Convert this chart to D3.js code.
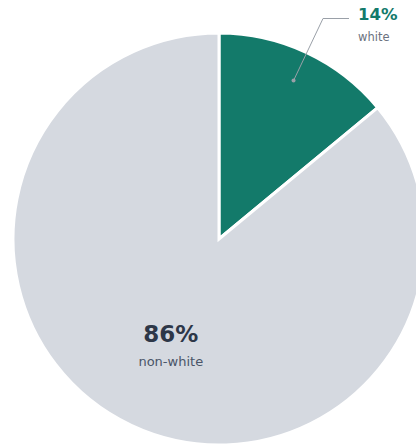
<!DOCTYPE html>
<html><head><meta charset="utf-8">
<script src="https://cdn.jsdelivr.net/npm/d3@7"></script>
<style>html,body{margin:0;padding:0;background:#fff;}svg{display:block;}</style>
</head><body>
<svg id="c" width="416" height="445"></svg>
<script>
const categories = ["white", "non-white"];
const values = [14, 86];
const labels = ["14%", "86%"];

const W = 416, H = 445;
const cx = 219, cy = 239, R = 206;
const colors = d3.scaleOrdinal().domain(categories).range(["#137a6a", "#d5d9e0"]);
const svg = d3.select("#c");
const g = svg.append("g").attr("transform", `translate(${cx},${cy})`);

const pie = d3.pie().sort(null).value(d => d.v);
const data = pie(categories.map((c, i) => ({c, v: values[i], l: labels[i]})));
const arc = d3.arc().innerRadius(0).outerRadius(R);

g.selectAll("path").data(data).join("path")
  .attr("d", arc)
  .attr("fill", d => colors(d.data.c))
  .attr("stroke", "#fff").attr("stroke-width", 3).attr("stroke-linejoin", "miter");

const font = "'DejaVu Sans', sans-serif";
// small slice: leader line label
const s = data[0];
const dotArc = d3.arc().innerRadius(R * 0.85).outerRadius(R * 0.85);
const [dx, dy] = dotArc.centroid(s);
const kx = 104, ky = -220.5, ex = 130;
g.append("polyline")
  .attr("points", [[dx, dy], [kx, ky], [ex, ky]].map(p => p.join(",")).join(" "))
  .attr("fill", "none").attr("stroke", "#9aa0a8").attr("stroke-width", 1);
g.append("circle").attr("cx", dx).attr("cy", dy).attr("r", 2).attr("fill", "#9aa0a8");
g.append("text").attr("x", ex + 9).attr("y", ky + 1.5)
  .attr("font-family", font).attr("font-weight", "bold").attr("font-size", 16.5)
  .attr("fill", "#137a6a").text(s.data.l);
g.append("text").attr("x", ex + 9).attr("y", ky + 22)
  .attr("font-family", font).attr("font-size", 11.5)
  .attr("fill", "#6b7280").text(s.data.c);

// large slice: inside label
const b = data[1];
const inArc = d3.arc().innerRadius(R * 0.55).outerRadius(R * 0.55);
const [bx, by] = inArc.centroid(b);
g.append("text").attr("x", bx).attr("y", by + 0)
  .attr("text-anchor", "middle")
  .attr("font-family", font).attr("font-weight", "bold").attr("font-size", 23)
  .attr("fill", "#2d3748").text(b.data.l);
g.append("text").attr("x", bx).attr("y", by + 24)
  .attr("text-anchor", "middle")
  .attr("font-family", font).attr("font-size", 13)
  .attr("fill", "#4a5568").text(b.data.c);
</script>
</body></html>
